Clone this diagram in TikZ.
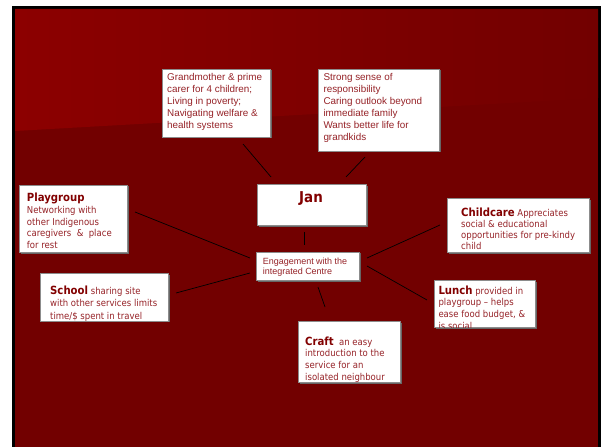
\documentclass[tikz,border=0pt]{standalone}
\usepackage{fontspec}
\usetikzlibrary{shadows}
\newfontfamily\arialfont{Liberation Sans}
\newfontfamily\tahomafont{DejaVu Sans}[FakeStretch=0.9]
\definecolor{slidelight}{RGB}{140,0,0}
\definecolor{slidedark}{RGB}{114,0,0}
\definecolor{boxtext}{RGB}{150,35,40}
\definecolor{boxhead}{RGB}{130,0,0}
\tikzset{
	card/.style={rectangle, draw=black!45, line width=0.6bp, fill=white, inner sep=0pt, anchor=north west,
		drop shadow={shadow xshift=1.2bp, shadow yshift=-1.2bp, fill=black!60, opacity=1}},
	cardtext/.style={anchor=base west, inner sep=0pt, align=left, text=boxtext,
		font=\tahomafont\fontsize{9.5}{#1}\selectfont},
	cardtext/.default=11.7,
	toptext/.style={anchor=base west, inner sep=0pt, align=left, text=boxtext,
		font=\arialfont\fontsize{9.9}{12}\selectfont},
	link/.style={black, line width=0.7bp},
}
\newcommand{\head}[1]{{\color{boxhead}\fontsize{11.3}{12}\selectfont\bfseries #1}}

\begin{document}
\begin{tikzpicture}[x=1bp, y=-1bp]
		%%%%% START %%%%%
		\useasboundingbox (0,0) rectangle (602,447);
		
		% slide
		\fill[white] (0,0) rectangle (602,447);
		\fill[black] (12,6) rectangle (601,447);
		\fill[slidedark] (15,9) rectangle (598,447);
		\shade[left color=slidelight, right color=slidedark] (15,9) -- (598,9) -- (598,98) -- (15,131) -- cycle;
		
		% top boxes (text nodes sit on their last baseline)
		\node[card, minimum width=108bp, minimum height=68bp] (granny) at (162,69) {};
		\node[toptext] (granny-text) at (167,128.7) {Grandmother \& prime\\carer for 4 children;\\Living in poverty;\\Navigating welfare \&\\health systems};
		
		\node[card, minimum width=121bp, minimum height=82bp] (outlook) at (318,69) {};
		\node[toptext] (outlook-text) at (323.3,140.7) {Strong sense of\\responsibility\\Caring outlook beyond\\immediate family\\Wants better life for\\grandkids};
		
		% centre
		\node[card, minimum width=109bp, minimum height=41bp] (jan) at (257,184.5) {};
		\node[anchor=base, inner sep=0pt, text=boxhead, font=\tahomafont\fontsize{15}{18}\selectfont\bfseries] (jan-text) at (311,202.3) {Jan};
		
		\node[card, minimum width=103bp, minimum height=28bp] (engage) at (256,252) {};
		\node[anchor=base west, inner sep=0pt, align=left, text=boxtext, font=\arialfont\fontsize{9}{10.7}\selectfont] (engage-text) at (262.7,274.7) {Engagement with the\\integrated Centre};
		
		% services
		\node[card, minimum width=108bp, minimum height=67bp] (playgroup) at (19,185) {};
		\node[cardtext] (playgroup-text) at (26.7,248.5) {\head{Playgroup}\\Networking with\\other Indigenous\\caregivers \ \& \ place\\for rest};
		
		\node[card, minimum width=142bp, minimum height=54bp] (childcare) at (447.3,198.3) {};
		\begin{scope}
			\clip (childcare.south west) rectangle (childcare.north east);
			\node[cardtext=11.3] (childcare-text) at (461,249.9) {\head{Childcare} Appreciates\\social \& educational\\opportunities for pre-kindy\\child};
		\end{scope}
		
		\node[card, minimum width=128bp, minimum height=47.5bp] (school) at (40,273.3) {};
		\begin{scope}
			\clip (school.south west) rectangle (school.north east);
			\node[cardtext=12.5] (school-text) at (50,319) {\head{School} sharing site\\with other services limits\\time/\$ spent in travel};
		\end{scope}
		
		\node[card, minimum width=101bp, minimum height=47bp] (lunch) at (434,280) {};
		\begin{scope}
			\clip (lunch.south west) rectangle (lunch.north east);
			\node[cardtext] (lunch-text) at (438.3,329) {\head{Lunch} provided in\\playgroup – helps\\ease food budget, \&\\is social};
		\end{scope}
		
		\node[card, minimum width=102bp, minimum height=61bp] (craft) at (298,321) {};
		\begin{scope}
			\clip (craft.south west) rectangle (craft.north east);
			\node[cardtext] (craft-text) at (305,380.1) {\head{Craft} \ an easy\\introduction to the\\service for an\\isolated neighbour};
		\end{scope}
		
		% connectors
		\coordinate (granny-a) at (243,144);
		\coordinate (granny-b) at (271,177);
		\coordinate (outlook-a) at (365,157);
		\coordinate (outlook-b) at (346,177);
		\coordinate (jan-a) at (304.5,232);
		\coordinate (jan-b) at (304.5,245.5);
		\coordinate (playgroup-a) at (135,212);
		\coordinate (playgroup-b) at (250,258);
		\coordinate (childcare-a) at (440,225);
		\coordinate (childcare-b) at (367,258);
		\coordinate (lunch-a) at (367,266);
		\coordinate (lunch-b) at (427,300);
		\coordinate (school-a) at (250,273);
		\coordinate (school-b) at (176,293);
		\coordinate (craft-a) at (318,287);
		\coordinate (craft-b) at (325,307);
		
		\draw[link] (granny-a) -- (granny-b);
		\draw[link] (outlook-a) -- (outlook-b);
		\draw[link] (jan-a) -- (jan-b);
		\draw[link] (playgroup-a) -- (playgroup-b);
		\draw[link] (childcare-a) -- (childcare-b);
		\draw[link] (lunch-a) -- (lunch-b);
		\draw[link] (school-a) -- (school-b);
		\draw[link] (craft-a) -- (craft-b);
		
		%%%%% END %%%%%
	\end{tikzpicture}
\end{document}
